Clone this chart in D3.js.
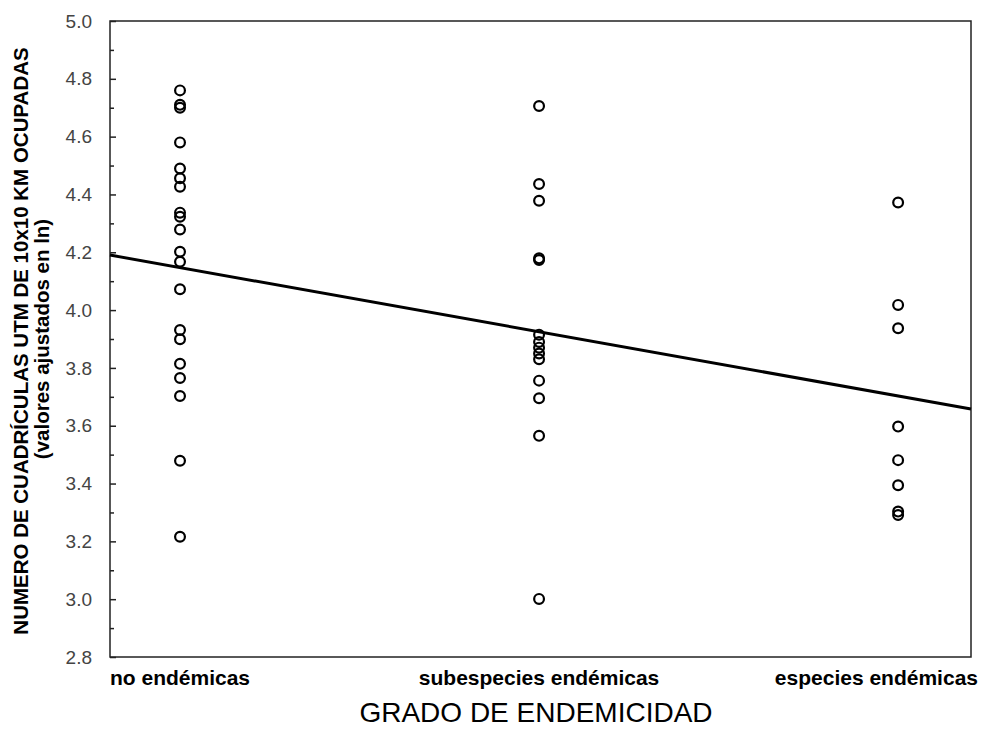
<!DOCTYPE html>
<html>
<head>
<meta charset="utf-8">
<script src="https://cdn.jsdelivr.net/npm/d3@7"></script>
<style>
  body { margin: 0; background: #fff; }
  svg { display: block; font-family: Arial, "Liberation Sans", sans-serif; }
</style>
</head>
<body>
<svg id="chart" width="992" height="729"></svg>
<script>
// categories on the x axis
var categories = ["no endémicas", "subespecies endémicas", "especies endémicas"];

// adjusted ln values for each group
var noEndemicas = [4.76, 4.71, 4.70, 4.58, 4.49, 4.456, 4.427, 4.337, 4.323, 4.279,
  4.202, 4.167, 4.072, 3.931, 3.899, 3.814, 3.765, 3.703, 3.479, 3.216];
var subespecies = [4.706, 4.436, 4.378, 4.179, 4.173, 3.915, 3.89, 3.87, 3.85, 3.83,
  3.756, 3.695, 3.565, 3.001];
var especies = [4.372, 4.018, 3.937, 3.597, 3.481, 3.394, 3.303, 3.291];

// fitted line: value at first category, change per category step
var fit = [4.147, -0.222];

var yTicks = [2.8, 3.0, 3.2, 3.4, 3.6, 3.8, 4.0, 4.2, 4.4, 4.6, 4.8, 5.0];
var yMinor = [2.9, 3.1, 3.3, 3.5, 3.7, 3.9, 4.1, 4.3, 4.5, 4.7, 4.9];

var width = 992, height = 729;
var margin = { top: 21, right: 21, bottom: 72, left: 110 };

var svg = d3.select("#chart");

var x = d3.scaleLinear()
  .domain([-0.195, 2.203])
  .range([margin.left, width - margin.right]);

var y = d3.scaleLinear()
  .domain([2.8, 5.0])
  .range([height - margin.bottom, margin.top]);

// frame
svg.append("rect")
  .attr("x", margin.left)
  .attr("y", margin.top)
  .attr("width", width - margin.right - margin.left)
  .attr("height", height - margin.bottom - margin.top)
  .attr("fill", "none")
  .attr("stroke", "#222")
  .attr("stroke-width", 1.5);

// left axis, ticks pointing inward
var yAxis = function (g) { return g
  .attr("transform", "translate(" + margin.left + ",0)")
  .call(d3.axisLeft(y).tickValues(yTicks).tickSize(-6).tickPadding(18)
    .tickFormat(d3.format(".1f")))
  .call(function (g) { g.select(".domain").remove(); })
  .call(function (g) { g.selectAll(".tick line").attr("stroke", "#222").attr("stroke-width", 1.5); })
  .call(function (g) { g.selectAll(".tick text")
    .attr("font-size", "19px")
    .attr("font-family", "Arial, 'Liberation Sans', sans-serif")
    .attr("fill", "#444"); }); };

svg.append("g").call(yAxis);

svg.append("g")
  .attr("transform", "translate(" + margin.left + ",0)")
  .call(d3.axisLeft(y).tickValues(yMinor).tickSize(-4).tickFormat(""))
  .call(function (g) { g.select(".domain").remove(); })
  .call(function (g) { g.selectAll(".tick line").attr("stroke", "#222").attr("stroke-width", 1.5); });

// category labels
svg.append("g")
  .selectAll("text")
  .data(categories)
  .join("text")
  .attr("x", function (d, i) { return x(i); })
  .attr("y", 685)
  .attr("text-anchor", "middle")
  .attr("font-size", "21px")
  .attr("font-weight", "bold")
  .attr("fill", "#000")
  .text(function (d) { return d; })
  .each(function () {
    // keep the last label inside the picture
    var b = this.getBBox();
    if (b.x + b.width > width - 14) {
      d3.select(this).attr("x", +d3.select(this).attr("x") - (b.x + b.width - (width - 14)));
    }
  });

// axis titles
svg.append("text")
  .attr("x", 536)
  .attr("y", 722)
  .attr("text-anchor", "middle")
  .attr("font-size", "28px")
  .attr("fill", "#000")
  .text("GRADO DE ENDEMICIDAD");

svg.append("text")
  .attr("transform", "translate(28,341) rotate(-90)")
  .attr("text-anchor", "middle")
  .attr("font-size", "20.5px")
  .attr("font-weight", "bold")
  .attr("fill", "#000")
  .text("NUMERO DE CUADRÍCULAS UTM DE 10x10 KM OCUPADAS");

svg.append("text")
  .attr("transform", "translate(49,339) rotate(-90)")
  .attr("text-anchor", "middle")
  .attr("font-size", "20.5px")
  .attr("font-weight", "bold")
  .attr("fill", "#000")
  .text("(valores ajustados en ln)");

// fitted line across the plot
var xd = x.domain();
svg.append("line")
  .attr("x1", x(xd[0]))
  .attr("y1", y(fit[0] + fit[1] * xd[0]))
  .attr("x2", x(xd[1]))
  .attr("y2", y(fit[0] + fit[1] * xd[1]))
  .attr("stroke", "#000")
  .attr("stroke-width", 3);

// points
var groups = [noEndemicas, subespecies, especies];
var points = [];
groups.forEach(function (vals, i) {
  vals.forEach(function (v) { points.push({ cat: i, value: v }); });
});

svg.append("g")
  .attr("fill", "none")
  .attr("stroke", "#000")
  .attr("stroke-width", 2.2)
  .selectAll("circle")
  .data(points)
  .join("circle")
  .attr("cx", function (d) { return x(d.cat); })
  .attr("cy", function (d) { return y(d.value); })
  .attr("r", 4.9);
</script>
</body>
</html>
